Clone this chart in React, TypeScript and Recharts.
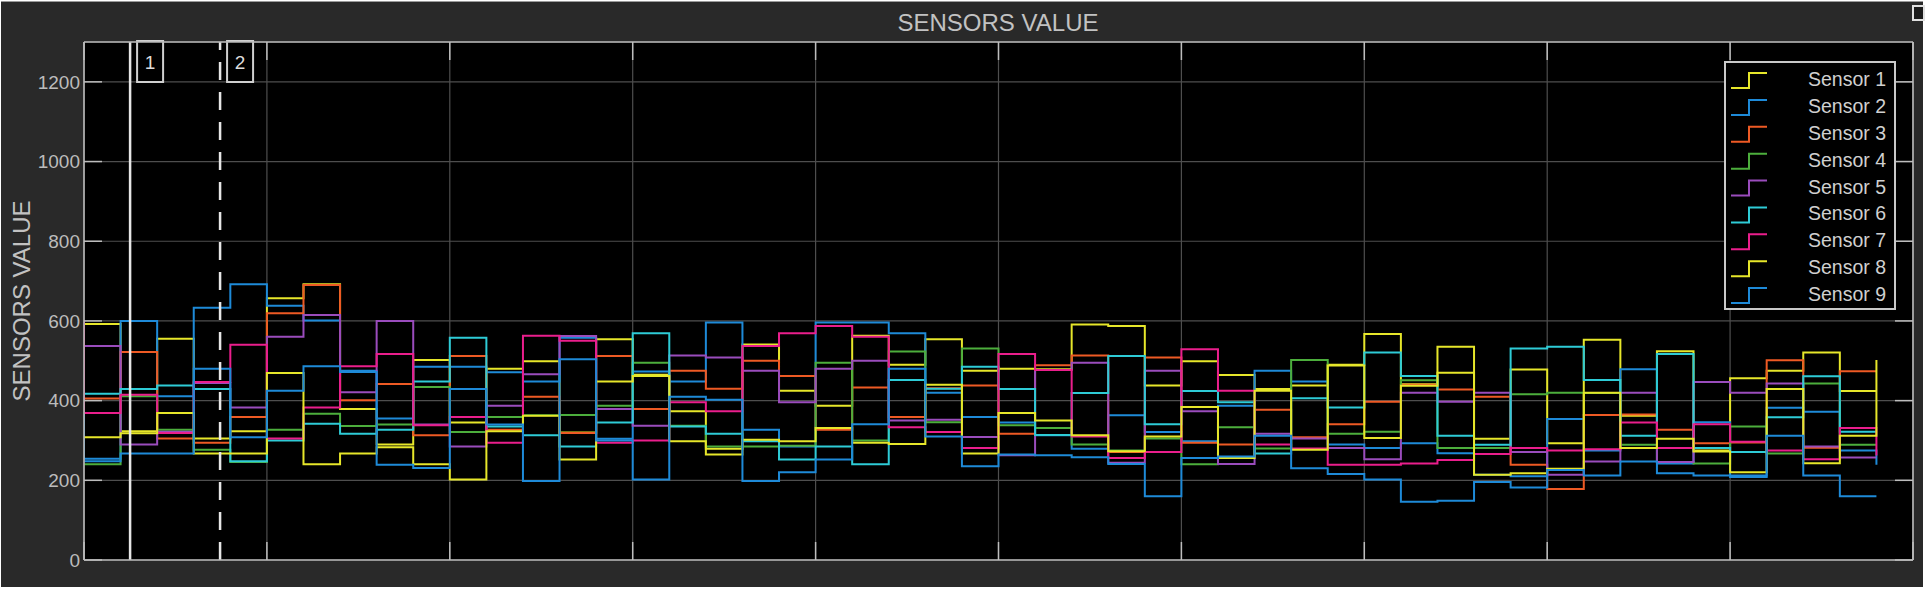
import React from 'react';
import { LineChart, Line, XAxis, YAxis, CartesianGrid, ReferenceLine, Legend } from 'recharts';

// sample index (-1 is the sample just before the visible window)
const sampleIndex = [
  -1, 0, 1, 2, 3, 4, 5, 6, 7, 8, 9,
  10, 11, 12, 13, 14, 15, 16, 17, 18, 19,
  20, 21, 22, 23, 24, 25, 26, 27, 28, 29,
  30, 31, 32, 33, 34, 35, 36, 37, 38, 39,
  40, 41, 42, 43, 44, 45, 46, 47, 48, 49,
];

const sensor1 = [444,
  592, 323, 555, 305, 323, 657, 692, 379, 290, 502,
  345, 480, 499, 320, 554, 465, 373, 279, 541, 425,
  387, 563, 490, 554, 475, 480, 479, 591, 587, 438,
  499, 464, 429, 438, 490, 567, 441, 535, 304, 478,
  293, 553, 362, 524, 275, 456, 475, 521, 424, 424];
const sensor2 = [365,
  254, 600, 411, 633, 692, 638, 601, 475, 355, 485,
  485, 471, 448, 558, 304, 473, 448, 596, 327, 285,
  596, 596, 569, 420, 359, 345, 313, 279, 363, 321,
  298, 387, 475, 448, 290, 281, 293, 268, 214, 210,
  354, 275, 479, 242, 346, 212, 382, 372, 275, 239];
const sensor3 = [405,
  405, 522, 305, 294, 359, 619, 690, 401, 442, 313,
  512, 327, 410, 319, 512, 379, 475, 430, 500, 462,
  327, 433, 359, 431, 438, 317, 489, 513, 271, 508,
  294, 290, 377, 308, 341, 397, 440, 428, 410, 239,
  178, 364, 365, 327, 293, 295, 501, 282, 474, 474];
const sensor4 = [240,
  240, 411, 327, 277, 246, 327, 367, 336, 340, 434,
  321, 359, 363, 364, 387, 495, 337, 285, 285, 287,
  495, 300, 523, 346, 531, 338, 331, 290, 275, 305,
  240, 333, 280, 502, 317, 322, 451, 281, 281, 416,
  420, 419, 289, 246, 242, 335, 267, 443, 289, 289];
const sensor5 = [537,
  537, 290, 322, 444, 383, 560, 615, 421, 600, 340,
  285, 387, 466, 562, 379, 337, 513, 508, 475, 396,
  480, 500, 350, 352, 309, 263, 477, 495, 244, 475,
  373, 241, 317, 305, 281, 253, 420, 397, 420, 271,
  214, 247, 420, 246, 447, 420, 443, 285, 257, 257];
const sensor6 = [417,
  417, 429, 438, 429, 248, 300, 342, 317, 327, 448,
  558, 335, 313, 285, 345, 569, 335, 317, 298, 252,
  285, 240, 452, 430, 485, 429, 314, 419, 512, 341,
  424, 396, 267, 406, 383, 521, 462, 312, 289, 531,
  535, 452, 312, 517, 281, 271, 358, 461, 322, 322];
const sensor7 = [600,
  369, 415, 319, 447, 540, 305, 383, 486, 517, 338,
  359, 294, 563, 550, 294, 300, 396, 373, 537, 569,
  587, 560, 333, 321, 281, 517, 477, 310, 256, 271,
  529, 425, 290, 280, 239, 239, 242, 251, 266, 281,
  275, 278, 345, 281, 341, 297, 275, 253, 331, 262];
const sensor8 = [308,
  308, 318, 369, 267, 267, 469, 240, 267, 283, 240,
  202, 323, 362, 252, 448, 462, 298, 265, 302, 298,
  331, 294, 291, 440, 267, 369, 350, 313, 273, 310,
  384, 256, 425, 277, 488, 306, 437, 470, 214, 218,
  229, 420, 281, 304, 272, 220, 429, 243, 312, 502];
const sensor9 = [248,
  248, 267, 267, 480, 308, 425, 486, 472, 239, 231,
  429, 340, 198, 504, 300, 202, 410, 402, 198, 220,
  252, 341, 480, 310, 235, 265, 263, 258, 241, 160,
  256, 260, 312, 230, 216, 202, 146, 149, 196, 182,
  226, 212, 247, 218, 212, 208, 312, 212, 160, 160];

const seriesNames = ['Sensor 1', 'Sensor 2', 'Sensor 3', 'Sensor 4', 'Sensor 5', 'Sensor 6', 'Sensor 7', 'Sensor 8', 'Sensor 9'];
const seriesColors = ['#e6e62a', '#1e8ad8', '#ee5a24', '#4cae3c', '#9a4cbc', '#2ecbd6', '#ea1e8c', '#e6e62a', '#1e8ad8'];
const seriesValues = [sensor1, sensor2, sensor3, sensor4, sensor5, sensor6, sensor7, sensor8, sensor9];

const yTicks = [0, 200, 400, 600, 800, 1000, 1200];
const xTicks = [0, 5, 10, 15, 20, 25, 30, 35, 40, 45, 50];
const cursorPositions = [1.26, 3.72];
const cursorLabels = ['1', '2'];
const chartTitle = 'SENSORS VALUE';
const yAxisTitle = 'SENSORS VALUE';

const data = sampleIndex.map((t, i) => {
  const row: Record<string, number> = { t };
  seriesValues.forEach((s, j) => {
    row['s' + (j + 1)] = s[i];
  });
  return row;
});

const FONT = "'Liberation Sans', Arial, Helvetica, sans-serif";
const TICK_LEN = 18;
const TICK_COLOR = '#bdbdbd';
const AXIS_COLOR = '#b9b9b9';

const LeftTick = (props: any) => {
  const { x, y, payload } = props;
  return (
    <g>
      <text x={x} y={y} dy="0.36em" textAnchor="end" fill="#bcbcbc" fontSize={19} fontFamily={FONT}>
        {payload.value}
      </text>
      <line x1={x + 4} x2={x + 4 + TICK_LEN} y1={y} y2={y} stroke={TICK_COLOR} strokeWidth={1.5} />
    </g>
  );
};
const RightTick = (props: any) => {
  const { x, y } = props;
  return <line x1={x - TICK_LEN} x2={x} y1={y} y2={y} stroke={TICK_COLOR} strokeWidth={1.5} />;
};
const BottomTick = (props: any) => {
  const { x, y } = props;
  return <line x1={x} x2={x} y1={y - TICK_LEN} y2={y} stroke={TICK_COLOR} strokeWidth={1.5} />;
};
const TopTick = (props: any) => {
  const { x, y } = props;
  return <line x1={x} x2={x} y1={y} y2={y + TICK_LEN} stroke={TICK_COLOR} strokeWidth={1.5} />;
};

const cursorLabel = (text: string) => (props: any) => {
  const vb = props.viewBox || {};
  const x = vb.x ?? 0;
  const y = vb.y ?? 0;
  return (
    <g>
      <rect x={x + 7} y={y - 1} width={26} height={41} fill="#000" stroke="#cfcfcf" strokeWidth={2} />
      <text x={x + 20} y={y + 27} textAnchor="middle" fill="#dcdcdc" fontSize={19} fontFamily={FONT}>
        {text}
      </text>
    </g>
  );
};

const LegendBox = () => (
  <svg width={173} height={250} style={{ display: 'block' }}>
    <rect x={1} y={1} width={170} height={247} fill="#000" stroke="#c9c9c9" strokeWidth={2} />
    {seriesNames.map((name, i) => {
      const cy = 18 + i * 26.875;
      return (
        <g key={name}>
          <path d={`M7 ${cy + 9} H25 V${cy - 6} H43`} stroke={seriesColors[i]} strokeWidth={2} fill="none" />
          <text x={162} y={cy + 7} textAnchor="end" fontSize={19.5} fill="#d0d0d0" fontFamily={FONT}>
            {name}
          </text>
        </g>
      );
    })}
  </svg>
);

export default function App() {
  return (
    <div style={{ position: 'absolute', left: 0, top: 0, width: 1925, height: 591, background: '#fff', overflow: 'hidden' }}>
      <div
        style={{
          position: 'absolute',
          left: 1,
          top: 1,
          width: 1922,
          height: 586,
          background: '#292929',
          borderTop: '1px solid #9a9a9a',
          boxSizing: 'border-box',
        }}
      />
      <div
        style={{
          position: 'absolute',
          left: 1912,
          top: 5,
          width: 13,
          height: 16,
          border: '2px solid #e0e0e0',
          boxSizing: 'border-box',
          background: '#1a1a1a',
        }}
      />
      <div style={{ position: 'absolute', left: 0, top: 0 }}>
        <LineChart width={1925} height={591} data={data} margin={{ top: 0, right: 0, bottom: 0, left: 0 }}>
          <CartesianGrid stroke="#4e4e4e" strokeWidth={1.2} fill="#000" />
          <XAxis
            dataKey="t"
            type="number"
            domain={[0, 50]}
            allowDataOverflow
            ticks={xTicks}
            interval={0}
            height={31}
            tickSize={0}
            tickMargin={0}
            tickLine={false}
            axisLine={{ stroke: AXIS_COLOR, strokeWidth: 1.6 }}
            tick={<BottomTick />}
          />
          <XAxis
            xAxisId="top"
            orientation="top"
            dataKey="t"
            type="number"
            domain={[0, 50]}
            allowDataOverflow
            ticks={xTicks}
            interval={0}
            height={42}
            tickSize={0}
            tickMargin={0}
            tickLine={false}
            axisLine={{ stroke: AXIS_COLOR, strokeWidth: 1.6 }}
            tick={<TopTick />}
          />
          <YAxis
            type="number"
            domain={[0, 1300]}
            allowDataOverflow
            ticks={yTicks}
            interval={0}
            width={84}
            tickSize={4}
            tickMargin={0}
            tickLine={false}
            axisLine={{ stroke: AXIS_COLOR, strokeWidth: 1.6 }}
            tick={<LeftTick />}
          />
          <YAxis
            yAxisId="right"
            orientation="right"
            type="number"
            domain={[0, 1300]}
            allowDataOverflow
            ticks={yTicks}
            interval={0}
            width={12}
            tickSize={0}
            tickMargin={0}
            tickLine={false}
            axisLine={{ stroke: AXIS_COLOR, strokeWidth: 1.6 }}
            tick={<RightTick />}
          />
          {seriesNames.map((name, i) => (
            <Line
              key={name}
              name={name}
              dataKey={'s' + (i + 1)}
              type="stepAfter"
              stroke={seriesColors[i]}
              strokeWidth={2}
              dot={false}
              activeDot={false}
              isAnimationActive={false}
            />
          ))}
          <ReferenceLine
            x={cursorPositions[0]}
            stroke="#e6e6e6"
            strokeWidth={2.5}
            label={cursorLabel(cursorLabels[0])}
          />
          <ReferenceLine
            x={cursorPositions[1]}
            stroke="#e6e6e6"
            strokeWidth={2.5}
            strokeDasharray="18 12"
            label={cursorLabel(cursorLabels[1])}
          />
          <Legend
            layout="vertical"
            align="center"
            verticalAlign="middle"
            wrapperStyle={{ left: 1724, top: 61, width: 173, height: 250 }}
            content={() => <LegendBox />}
          />
        </LineChart>
      </div>
      <svg
        width={1925}
        height={591}
        style={{ position: 'absolute', left: 0, top: 0, pointerEvents: 'none' }}
      >
        <text x={998} y={30.5} textAnchor="middle" fill="#c2c2c2" fontSize={24} fontFamily={FONT}>
          {chartTitle}
        </text>
        <text
          x={30}
          y={301}
          transform="rotate(-90 30 301)"
          textAnchor="middle"
          fill="#c2c2c2"
          fontSize={24}
          fontFamily={FONT}
        >
          {yAxisTitle}
        </text>
      </svg>
    </div>
  );
}
